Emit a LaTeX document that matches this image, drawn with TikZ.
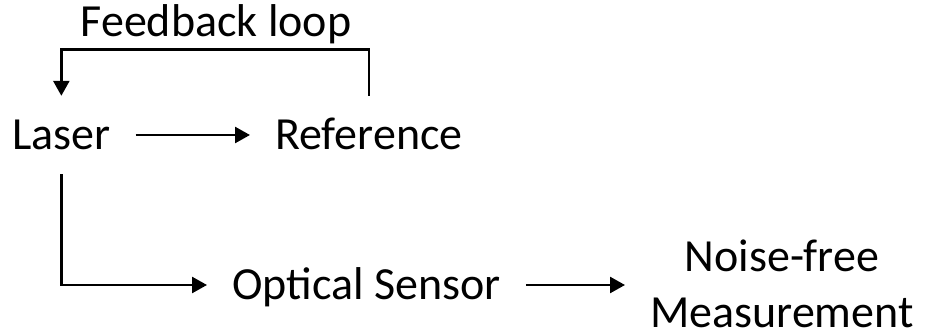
\documentclass[tikz,border=0pt]{standalone}
\usepackage{fontspec}
\setmainfont{Carlito}
\usetikzlibrary{arrows.meta}

\begin{document}
\begin{tikzpicture}[x=1pt, y=1pt,
  lbl/.style={font=\fontsize{46}{55}\selectfont, inner xsep=25pt, inner ysep=24pt,
              text height=30pt, text depth=0pt},
  arr/.style={line width=2.6pt, -{Triangle[length=15pt, width=16pt]}}]

  % canvas
  \useasboundingbox (0,0) rectangle (926,-336);

  % nodes
  \node[lbl, anchor=base west] (laser) at (-13,-150) {Laser};
  \node[lbl, anchor=base west] (ref) at (250,-150) {Reference};
  \node[lbl, anchor=base west] (optical) at (207,-300) {Optical Sensor};
  \node[font=\fontsize{46}{56}\selectfont, inner xsep=25pt, inner ysep=0pt,
        align=center, anchor=west] (noise) at (625,-284) {Noise-free\\Measurement};
  \node[font=\fontsize{46}{55}\selectfont, inner sep=0pt, anchor=base] (fblabel)
        at (216,-37) {Feedback loop};

  % connectors
  \draw[arr] (laser) -- (ref);
  \draw[arr] (ref.north) -- ++(0,46) -| (laser.north);
  \draw[arr] (laser.south) |- (optical.west);
  \draw[arr] (optical.east) -- (optical.east -| noise.west);
\end{tikzpicture}
\end{document}
